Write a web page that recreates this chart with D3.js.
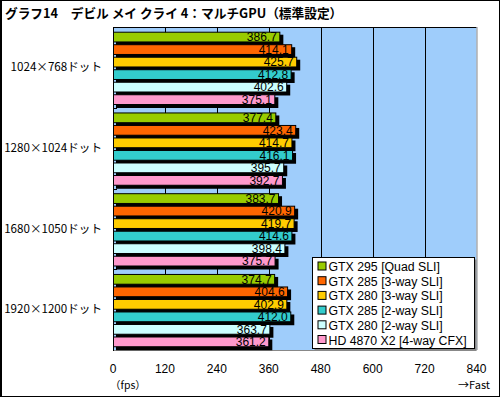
<!DOCTYPE html>
<html><head><meta charset="utf-8">
<script src="https://cdn.jsdelivr.net/npm/d3@7"></script>
<style>body{margin:0;background:#fff}svg{display:block}</style>
</head><body>
<script>
const title = "グラフ14　デビル メイ クライ 4：マルチGPU（標準設定）";
const categories = ["1024×768ドット","1280×1024ドット","1680×1050ドット","1920×1200ドット"];
const seriesNames = ["GTX 295 [Quad SLI]","GTX 285 [3-way SLI]","GTX 280 [3-way SLI]","GTX 285 [2-way SLI]","GTX 280 [2-way SLI]","HD 4870 X2 [4-way CFX]"];
const seriesColors = ["#99cc00","#ff6600","#ffcc00","#33cccc","#ccffff","#ff99cc"];
const gtx295q = [386.7,377.4,383.7,374.7];
const gtx285_3 = [414.1,423.4,420.9,404.6];
const gtx280_3 = [425.7,414.7,419.7,402.9];
const gtx285_2 = [412.8,416.1,414.6,412.0];
const gtx280_2 = [402.6,395.7,398.4,363.7];
const hd4870x2 = [375.1,392.7,375.7,361.2];
const seriesValues = [gtx295q,gtx285_3,gtx280_3,gtx285_2,gtx280_2,hd4870x2];
const xTicks = [0,120,240,360,480,600,720,840];

const W=500,H=397;
const L=113,R=476.5,T=27,B=350;
const svg=d3.select("body").append("svg").attr("width",W).attr("height",H);
svg.append("rect").attr("x",0.5).attr("y",0.5).attr("width",W-1).attr("height",H-1).attr("fill","#fff").attr("stroke","#000").attr("stroke-width",1);
svg.append("line").attr("x1",1.5).attr("x2",1.5).attr("y1",0).attr("y2",H).attr("stroke","#000");

svg.append("text").attr("x",5).attr("y",18).text(title)
  .attr("font-family","'Noto Sans CJK JP'").attr("font-size",12.7).attr("font-weight","bold").attr("fill","#000");

const x=d3.scaleLinear().domain([0,840]).range([L,R]);
const y0=d3.scaleBand().domain(categories).range([T,B]);
const y1=d3.scaleBand().domain(d3.range(6)).range([4.7,78]).paddingInner(0.14);

// plot bg
svg.append("rect").attr("x",L).attr("y",T).attr("width",R-L).attr("height",B-T).attr("fill","#9fcdfb");
// grid
svg.append("g").selectAll("line").data(xTicks.slice(1,-1)).join("line")
  .attr("x1",d=>Math.round(x(d))+0.5).attr("x2",d=>Math.round(x(d))+0.5).attr("y1",T).attr("y2",B).attr("stroke","#000");
// borders
svg.append("line").attr("x1",L).attr("x2",R).attr("y1",T+0.5).attr("y2",T+0.5).attr("stroke","#000");
svg.append("line").attr("x1",R+0.5).attr("x2",R+0.5).attr("y1",T).attr("y2",B).attr("stroke","#888");
svg.append("line").attr("x1",L).attr("x2",R).attr("y1",B+0.5).attr("y2",B+0.5).attr("stroke","#888");

// bars: shadows, bars, then labels
const items=[];
categories.forEach((cat,ci)=>seriesValues.forEach((vals,si)=>items.push({cat,si,v:vals[ci]})));
const bh=y1.bandwidth();
const by=d=>y0(d.cat)+y1(d.si);
svg.append("g").selectAll("rect").data(items).join("rect")
  .attr("x",L+3).attr("y",d=>by(d)+3).attr("width",d=>x(d.v)-L).attr("height",bh).attr("fill","#000");
svg.append("g").selectAll("rect").data(items).join("rect")
  .attr("x",L+0.5).attr("y",d=>by(d)+0.5).attr("width",d=>x(d.v)-L-1).attr("height",bh-1)
  .attr("fill",d=>seriesColors[d.si]).attr("stroke","#000");
svg.append("g").selectAll("text").data(items).join("text")
  .attr("x",d=>x(d.v)-3.5).attr("y",d=>by(d)+bh/2+4.3).attr("text-anchor","end")
  .attr("font-family","'Liberation Sans'").attr("font-size",12).attr("fill","#000").text(d=>d.v.toFixed(1));

// left axis
svg.append("line").attr("x1",L+0.5).attr("x2",L+0.5).attr("y1",T).attr("y2",B+1).attr("stroke","#000");
svg.append("g").selectAll("line").data(categories.slice(1)).join("line")
  .attr("x1",L).attr("x2",L+4).attr("y1",d=>Math.round(y0(d))+0.5).attr("y2",d=>Math.round(y0(d))+0.5).attr("stroke","#000");
// category labels
svg.append("g").selectAll("text").data(categories).join("text")
  .attr("x",102).attr("y",d=>y0(d)+y0.bandwidth()/2+3.8).attr("text-anchor","end")
  .attr("font-family","'Noto Sans CJK JP'").attr("font-size",11.6).attr("fill","#000").text(d=>d);
// x tick labels
svg.append("g").selectAll("text").data(xTicks).join("text")
  .attr("x",d=>x(d)).attr("y",373).attr("text-anchor","middle")
  .attr("font-family","'Liberation Sans'").attr("font-size",12).attr("fill","#000").text(d=>d);
svg.append("text").attr("x",110).attr("y",389).text("（fps）")
  .attr("font-family","'Noto Sans CJK JP'").attr("font-size",10.5).attr("fill","#000");
svg.append("text").attr("x",490).attr("y",389).attr("text-anchor","end").text("→Fast")
  .attr("font-family","'Noto Sans CJK JP'").attr("font-size",11).attr("fill","#000");

// legend
const lx=312.5,ly=257.5,lw=162,lh=91;
svg.append("rect").attr("x",lx+2).attr("y",ly+2).attr("width",lw).attr("height",lh).attr("fill","#888");
svg.append("rect").attr("x",lx).attr("y",ly).attr("width",lw).attr("height",lh).attr("fill","#fff").attr("stroke","#000");
const lg=svg.append("g").selectAll("g").data(seriesNames).join("g").attr("transform",(d,i)=>`translate(${lx},${ly+9+i*14.7})`);
lg.append("rect").attr("x",5.5).attr("y",-4.5).attr("width",8).attr("height",8).attr("fill",(d,i)=>seriesColors[i]).attr("stroke","#000");
lg.append("text").attr("x",16).attr("y",4.5).text(d=>d)
  .attr("font-family","'Liberation Sans'").attr("font-size",12.3).attr("fill","#000");
</script>
</body></html>
